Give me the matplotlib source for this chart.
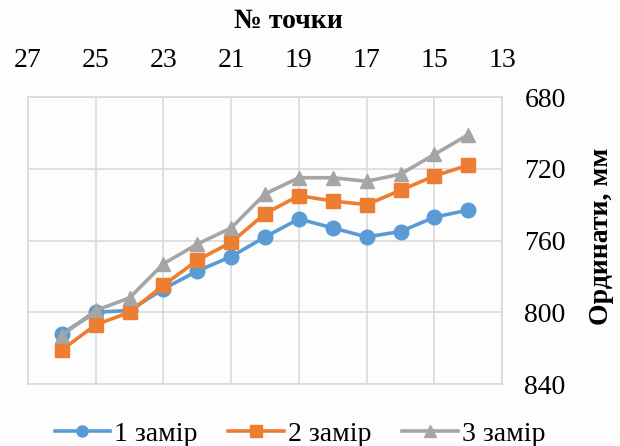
import matplotlib
matplotlib.use("Agg")
import matplotlib.pyplot as plt
from matplotlib.lines import Line2D

# Point numbers and measured ordinates (mm) for three surveys
points = [26, 25, 24, 23, 22, 21, 20, 19, 18, 17, 16, 15, 14]
survey1 = [812, 800, 799, 787, 777, 769, 758, 748, 753, 758, 755, 747, 743]
survey2 = [821, 807, 800, 785, 771, 761, 745, 735, 738, 740, 732, 724, 718]
survey3 = [813, 799, 792, 773, 762, 753, 734, 725, 725, 727, 723, 712, 701]
labels = ["1 замір", "2 замір", "3 замір"]
colors = ["#5b9bd5", "#ed7d31", "#a5a5a5"]
markers = ["o", "s", "^"]

x_ticks = [27, 25, 23, 21, 19, 17, 15, 13]
y_ticks = [680, 720, 760, 800, 840]

plt.rcParams["font.family"] = ["Liberation Serif", "DejaVu Serif"]

fig = plt.figure(figsize=(6.2, 4.46), dpi=100, facecolor="#fdfdfd")
ax = fig.add_axes([0.045, 0.139, 0.765, 0.6435])
ax.set_facecolor("#fdfdfd")

for ys, lab, c, m in zip([survey1, survey2, survey3], labels, colors, markers):
    ax.plot(points, ys, color=c, marker=m, markersize=10.5, linewidth=2.6,
            label=lab, zorder=3)

ax.set_xlim(27, 13)
ax.set_ylim(840, 680)
ax.set_xticks(x_ticks)
ax.set_yticks(y_ticks)
ax.xaxis.tick_top()
ax.yaxis.tick_right()
ax.tick_params(axis="both", length=0, labelsize=20, colors="black")
ax.tick_params(axis="x", pad=17)
ax.tick_params(axis="y", pad=16)
ax.grid(True, color="#d9d9d9", linewidth=1.2)
ax.set_axisbelow(True)
for s in ax.spines.values():
    s.set_color("#d9d9d9")
    s.set_linewidth(1.2)

fig.text(288 / 620, 1 - 21 / 446, "№ точки", ha="center", va="center",
         fontsize=20, fontweight="bold")
fig.text(602 / 620, 1 - 236 / 446, "Ординати, мм", ha="center", va="center",
         rotation=90, fontsize=20, fontweight="bold")

handles = [Line2D([], [], color=c, marker=m, markersize=8, linewidth=2.6)
           for c, m in zip(colors, markers)]
fig.legend(handles, labels, loc="center", bbox_to_anchor=(300 / 620, 1 - 434 / 446),
           ncol=3, frameon=False, fontsize=20, handlelength=2.0,
           handletextpad=0.15, columnspacing=1.1)

fig.savefig("out.png", dpi=100, facecolor=fig.get_facecolor())
